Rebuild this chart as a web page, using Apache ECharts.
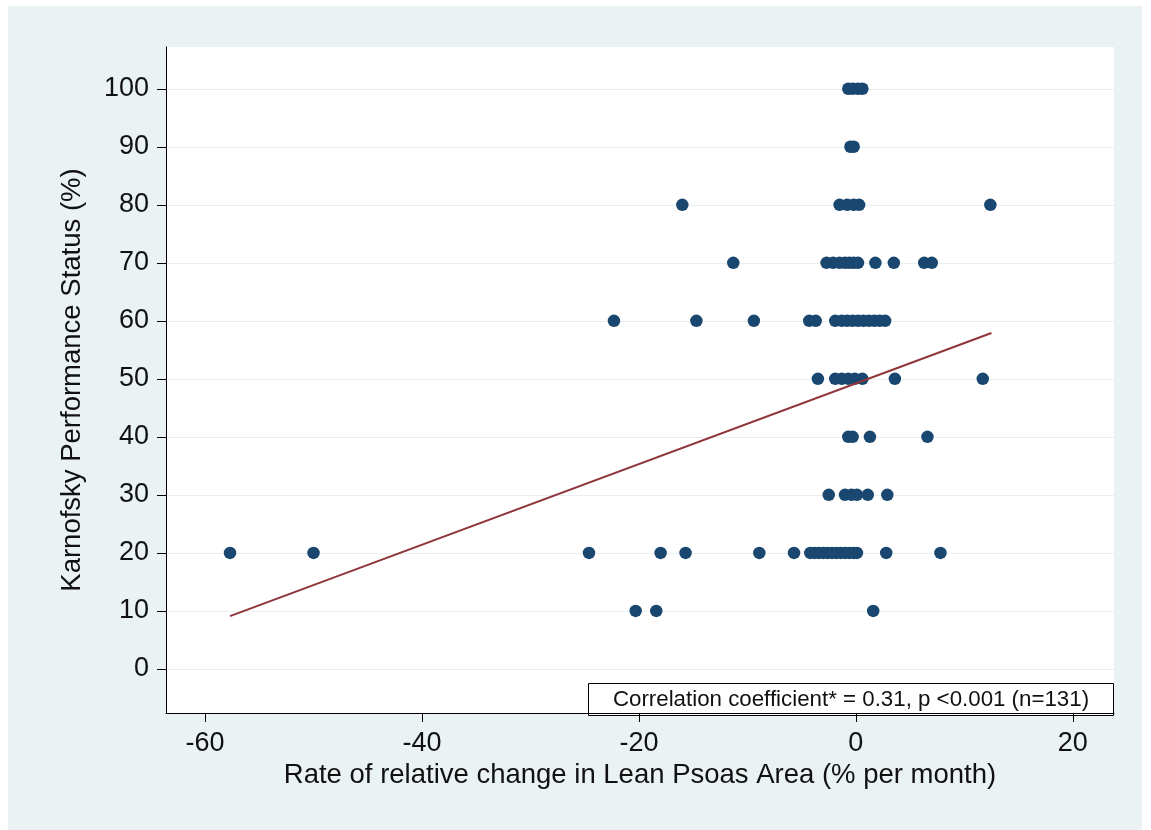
<!DOCTYPE html>
<html>
<head>
<meta charset="utf-8">
<script src="https://cdn.jsdelivr.net/npm/echarts@6/dist/echarts.min.js"></script>
<style>
html, body { margin: 0; padding: 0; background: #fff; }
#chart { position: absolute; left: 8px; top: 6px; width: 1134px; height: 824px; background: #eaf2f3; }
</style>
</head>
<body>
<div id="chart"></div>
<script>
// rate of change (% per month) of each patient, grouped by KPS level
var kps100 = [-0.7, -0.3, 0.2, 0.6];
var kps90 = [-0.5, -0.2];
var kps80 = [-16.0, -1.5, -0.8, -0.2, 0.3, 12.4];
var kps70 = [-11.3, -2.7, -2.1, -1.5, -1.0, -0.6, -0.2, 0.2, 1.8, 3.5, 6.3, 7.0];
var kps60 = [-22.3, -14.7, -9.4, -4.3, -3.7, -1.9, -1.3, -0.8, -0.3, 0.2, 0.7, 1.2, 1.7, 2.2, 2.7];
var kps50 = [-3.5, -1.9, -1.3, -0.7, -0.1, 0.6, 3.6, 11.7];
var kps40 = [-0.7, -0.3, 1.3, 6.6];
var kps30 = [-2.5, -1.0, -0.4, 0.1, 1.1, 2.9];
var kps20 = [-57.7, -50.0, -24.6, -18.0, -15.7, -8.9, -5.7, -4.2, -3.8, -3.4, -3.0, -2.6, -2.2,
             -1.8, -1.4, -1.0, -0.6, -0.2, 0.1, 2.8, 7.8];
var kps10 = [-20.3, -18.4, 1.6];

var kpsLevels = [100, 90, 80, 70, 60, 50, 40, 30, 20, 10];
var rateGroups = [kps100, kps90, kps80, kps70, kps60, kps50, kps40, kps30, kps20, kps10];

// fitted line end points
var fitX = [-57.7, 12.5];
var fitY = [9.1, 57.9];

var xTicks = [-60, -40, -20, 0, 20];
var yTicks = [0, 10, 20, 30, 40, 50, 60, 70, 80, 90, 100];

var points = [];
for (var i = 0; i < kpsLevels.length; i++) {
    for (var j = 0; j < rateGroups[i].length; j++) {
        points.push([rateGroups[i][j], kpsLevels[i]]);
    }
}
var fitLine = [];
for (var k = 0; k < fitX.length; k++) {
    fitLine.push([fitX[k], fitY[k]]);
}

var font = "'Liberation Sans', Arial, Helvetica, sans-serif";
var myChart = echarts.init(document.getElementById('chart'));

var option = {
    animation: false,
    textStyle: { fontFamily: font },
    grid: {
        left: 158, right: 28, top: 41, bottom: 117,
        show: true, backgroundColor: '#ffffff', borderWidth: 0
    },
    xAxis: {
        type: 'value',
        min: -63.6,
        max: 23.8,
        name: 'Rate of relative change in Lean Psoas Area (% per month)',
        nameLocation: 'middle',
        nameGap: 43,
        nameTextStyle: { fontSize: 27.5, color: '#111', fontFamily: font },
        axisLine: { onZero: false, lineStyle: { color: '#000', width: 1 } },
        axisTick: { customValues: xTicks, length: 9, lineStyle: { color: '#000' } },
        axisLabel: { customValues: xTicks, fontSize: 27, color: '#111', margin: 17, fontFamily: font },
        splitLine: { show: false }
    },
    yAxis: {
        type: 'value',
        min: -7.6,
        max: 107.2,
        name: 'Karnofsky Performance Status (%)',
        nameLocation: 'middle',
        nameGap: 80,
        nameTextStyle: { fontSize: 27.5, color: '#111', fontFamily: font },
        axisLine: { show: true, onZero: false, lineStyle: { color: '#000', width: 1 } },
        axisTick: { show: true, customValues: yTicks, length: 9, lineStyle: { color: '#000' } },
        axisLabel: { customValues: yTicks, fontSize: 27, color: '#111', margin: 17, fontFamily: font },
        splitLine: { show: true, lineStyle: { color: '#e9eff1', width: 1 } }
    },
    series: [
        {
            type: 'scatter',
            data: points,
            symbol: 'circle',
            symbolSize: 12.5,
            itemStyle: { color: '#1a476f', opacity: 1 }
        },
        {
            type: 'line',
            data: fitLine,
            showSymbol: false,
            lineStyle: { color: '#90353b', width: 2 }
        }
    ],
    graphic: [
        {
            type: 'group',
            left: 580,
            top: 677,
            z: 100,
            children: [
                {
                    type: 'rect',
                    shape: { x: 0.5, y: 0.5, width: 525, height: 32 },
                    style: { fill: '#ffffff', stroke: '#000', lineWidth: 1 }
                },
                {
                    type: 'text',
                    x: 263,
                    y: 17,
                    style: {
                        text: 'Correlation coefficient* = 0.31, p <0.001 (n=131)',
                        fontSize: 22.3,
                        fontFamily: font,
                        fill: '#111',
                        align: 'center',
                        verticalAlign: 'middle'
                    }
                }
            ]
        }
    ]
};

myChart.setOption(option);
</script>
</body>
</html>
